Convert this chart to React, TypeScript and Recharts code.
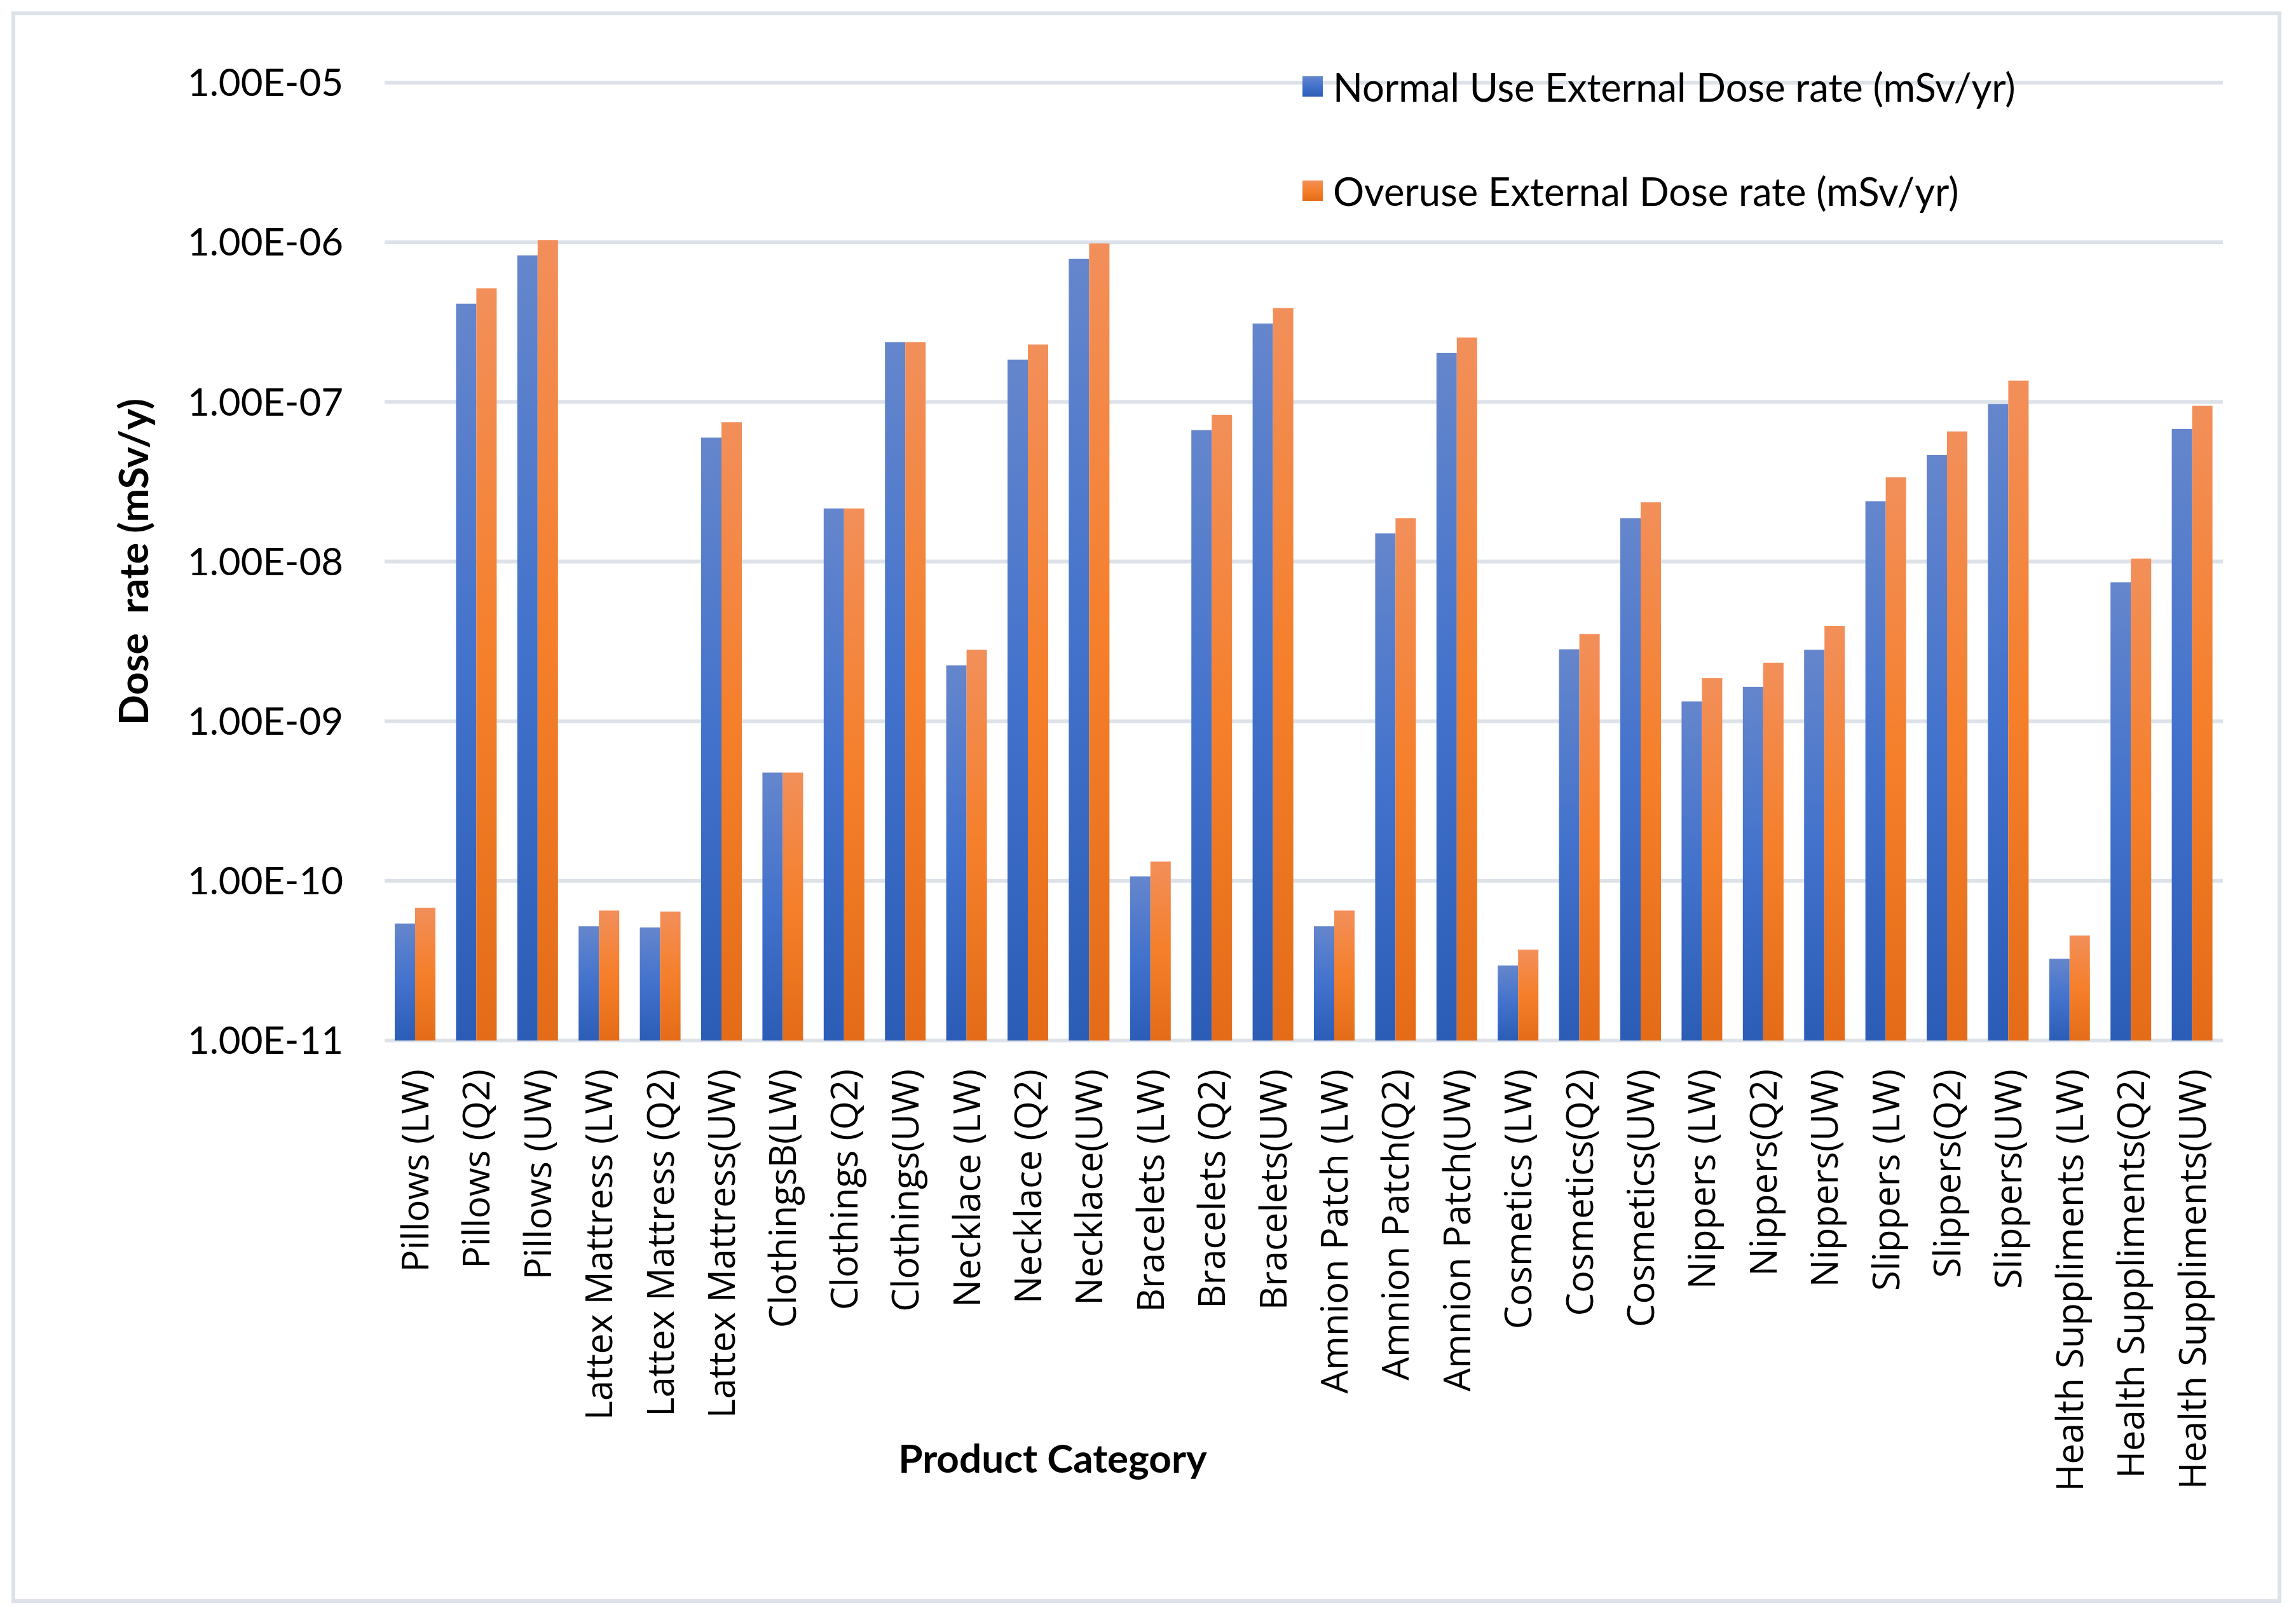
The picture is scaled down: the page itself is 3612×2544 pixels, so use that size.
import React from 'react';
import { BarChart, Bar, XAxis, YAxis, CartesianGrid } from 'recharts';

document.body.style.margin = '0';

const categories = [
  'Pillows (LW)',
  'Pillows (Q2)',
  'Pillows (UW)',
  'Lattex Mattress (LW)',
  'Lattex Mattress (Q2)',
  'Lattex Mattress(UW)',
  'ClothingsB(LW)',
  'Clothings (Q2)',
  'Clothings(UW)',
  'Necklace (LW)',
  'Necklace (Q2)',
  'Necklace(UW)',
  'Bracelets (LW)',
  'Bracelets (Q2)',
  'Bracelets(UW)',
  'Amnion Patch (LW)',
  'Amnion Patch(Q2)',
  'Amnion Patch(UW)',
  'Cosmetics (LW)',
  'Cosmetics(Q2)',
  'Cosmetics(UW)',
  'Nippers (LW)',
  'Nippers(Q2)',
  'Nippers(UW)',
  'Slippers (LW)',
  'Slippers(Q2)',
  'Slippers(UW)',
  'Health Suppliments (LW)',
  'Health Suppliments(Q2)',
  'Health Suppliments(UW)',
];

// Normal Use External Dose rate (mSv/yr)
const normalUse = [
  5.4e-11, 4.13e-7, 8.28e-7,
  5.19e-11, 5.1e-11, 5.98e-8,
  4.77e-10, 2.15e-8, 2.37e-7,
  2.24e-9, 1.84e-7, 7.89e-7,
  1.066e-10, 6.65e-8, 3.1e-7,
  5.19e-11, 1.5e-8, 2.03e-7,
  2.95e-11, 2.82e-9, 1.87e-8,
  1.33e-9, 1.64e-9, 2.8e-9,
  2.39e-8, 4.64e-8, 9.69e-8,
  3.25e-11, 7.41e-9, 6.76e-8,
];

// Overuse External Dose rate (mSv/yr)
const overuse = [
  6.8e-11, 5.15e-7, 1.03e-6,
  6.52e-11, 6.41e-11, 7.46e-8,
  4.77e-10, 2.15e-8, 2.37e-7,
  2.8e-9, 2.29e-7, 9.84e-7,
  1.32e-10, 8.3e-8, 3.87e-7,
  6.52e-11, 1.87e-8, 2.53e-7,
  3.71e-11, 3.52e-9, 2.35e-8,
  1.86e-9, 2.32e-9, 3.94e-9,
  3.37e-8, 6.54e-8, 1.36e-7,
  4.55e-11, 1.045e-8, 9.46e-8,
];

const yTicks = [1e-11, 1e-10, 1e-9, 1e-8, 1e-7, 1e-6, 1e-5];

const seriesNames = [
  'Normal Use External Dose rate (mSv/yr)',
  'Overuse External Dose rate (mSv/yr)',
];

const data = categories.map((category, i) => ({
  category,
  normal: normalUse[i],
  overuse: overuse[i],
}));

const GRID = '#dde2e9';
const TEXT_FONT = 'Lato, "Open Sans", sans-serif';
const CAT_FONT = '"Open Sans", "Noto Sans", sans-serif';
const BLUE_GRAD = 'linear-gradient(#6586cc, #4272cc 50%, #2c5db6)';
const ORANGE_GRAD = 'linear-gradient(#f28f5a, #f57f2a 50%, #e46c18)';

function formatSci(v: number) {
  const [m, e] = v.toExponential(2).split('e');
  const n = Number(e);
  return `${m}E${n < 0 ? '-' : '+'}${String(Math.abs(n)).padStart(2, '0')}`;
}

const CategoryTick = (props: any) => {
  const { x, y, payload } = props;
  return (
    <text
      x={x}
      y={y}
      dy="0.36em"
      transform={`rotate(-90, ${x}, ${y})`}
      textAnchor="end"
      fontFamily={CAT_FONT}
      fontSize={58}
      fill="#000"
    >
      {payload.value}
    </text>
  );
};

const YTitle = () => (
  <text
    x={208}
    y={884}
    transform="rotate(-90, 208, 884)"
    textAnchor="middle"
    dominantBaseline="central"
    fontFamily={TEXT_FONT}
    fontWeight="bold"
    fontSize={63}
    fill="#000"
    style={{ whiteSpace: 'pre' }}
  >
    Dose  rate (mSv/y)
  </text>
);

const XTitle = () => (
  <text
    x={1656}
    y={2293}
    textAnchor="middle"
    dominantBaseline="central"
    fontFamily={TEXT_FONT}
    fontWeight="bold"
    fontSize={62}
    fill="#000"
  >
    Product Category
  </text>
);

// legend drawn as an overlay so it does not take space from the plot
const LegendBox = () => (
  <div
    style={{
      position: 'absolute',
      left: 2049,
      top: 54,
      fontFamily: TEXT_FONT,
      fontSize: 61.5,
      color: '#000',
    }}
  >
    {seriesNames.map((name, i) => (
      <div key={name} style={{ display: 'flex', alignItems: 'center', height: 164 }}>
        <div
          style={{
            width: 32,
            height: 32,
            marginRight: 16,
            background: i === 0 ? BLUE_GRAD : ORANGE_GRAD,
          }}
        />
        <span style={{ whiteSpace: 'nowrap' }}>{name}</span>
      </div>
    ))}
  </div>
);

export default function App() {
  return (
    <div style={{ position: 'relative', width: 3612, height: 2544, background: '#fff' }}>
      <div
        style={{
          position: 'absolute',
          left: 18,
          top: 18,
          width: 3571,
          height: 2504,
          boxSizing: 'border-box',
          border: `6px solid ${GRID}`,
        }}
      />
      <div style={{ position: 'absolute', left: 0, top: 0 }}>
        <BarChart
          width={3612}
          height={2544}
          data={data}
          margin={{ top: 130, right: 115, bottom: 107, left: 205 }}
          barSize={32}
          barGap={0}
        >
          <defs>
            <linearGradient id="gradBlue" x1="0" y1="0" x2="0" y2="1">
              <stop offset="0%" stopColor="#6586cc" />
              <stop offset="50%" stopColor="#4272cc" />
              <stop offset="100%" stopColor="#2c5db6" />
            </linearGradient>
            <linearGradient id="gradOrange" x1="0" y1="0" x2="0" y2="1">
              <stop offset="0%" stopColor="#f28f5a" />
              <stop offset="50%" stopColor="#f57f2a" />
              <stop offset="100%" stopColor="#e46c18" />
            </linearGradient>
          </defs>
          <CartesianGrid vertical={false} stroke={GRID} strokeWidth={6} />
          <XAxis
            dataKey="category"
            type="category"
            interval={0}
            height={800}
            axisLine={false}
            tickLine={false}
            tickSize={0}
            tickMargin={45}
            tick={<CategoryTick />}
            label={<XTitle />}
          />
          <YAxis
            type="number"
            scale="log"
            domain={[1e-11, 1e-5]}
            ticks={yTicks}
            allowDataOverflow
            width={400}
            axisLine={false}
            tickLine={false}
            tickSize={0}
            tickMargin={65}
            tickFormatter={formatSci}
            tick={{ fontFamily: TEXT_FONT, fontSize: 60, fill: '#000' }}
            label={<YTitle />}
          />
          <Bar dataKey="normal" name={seriesNames[0]} fill="url(#gradBlue)" isAnimationActive={false} />
          <Bar dataKey="overuse" name={seriesNames[1]} fill="url(#gradOrange)" isAnimationActive={false} />
        </BarChart>
      </div>
      <LegendBox />
    </div>
  );
}
